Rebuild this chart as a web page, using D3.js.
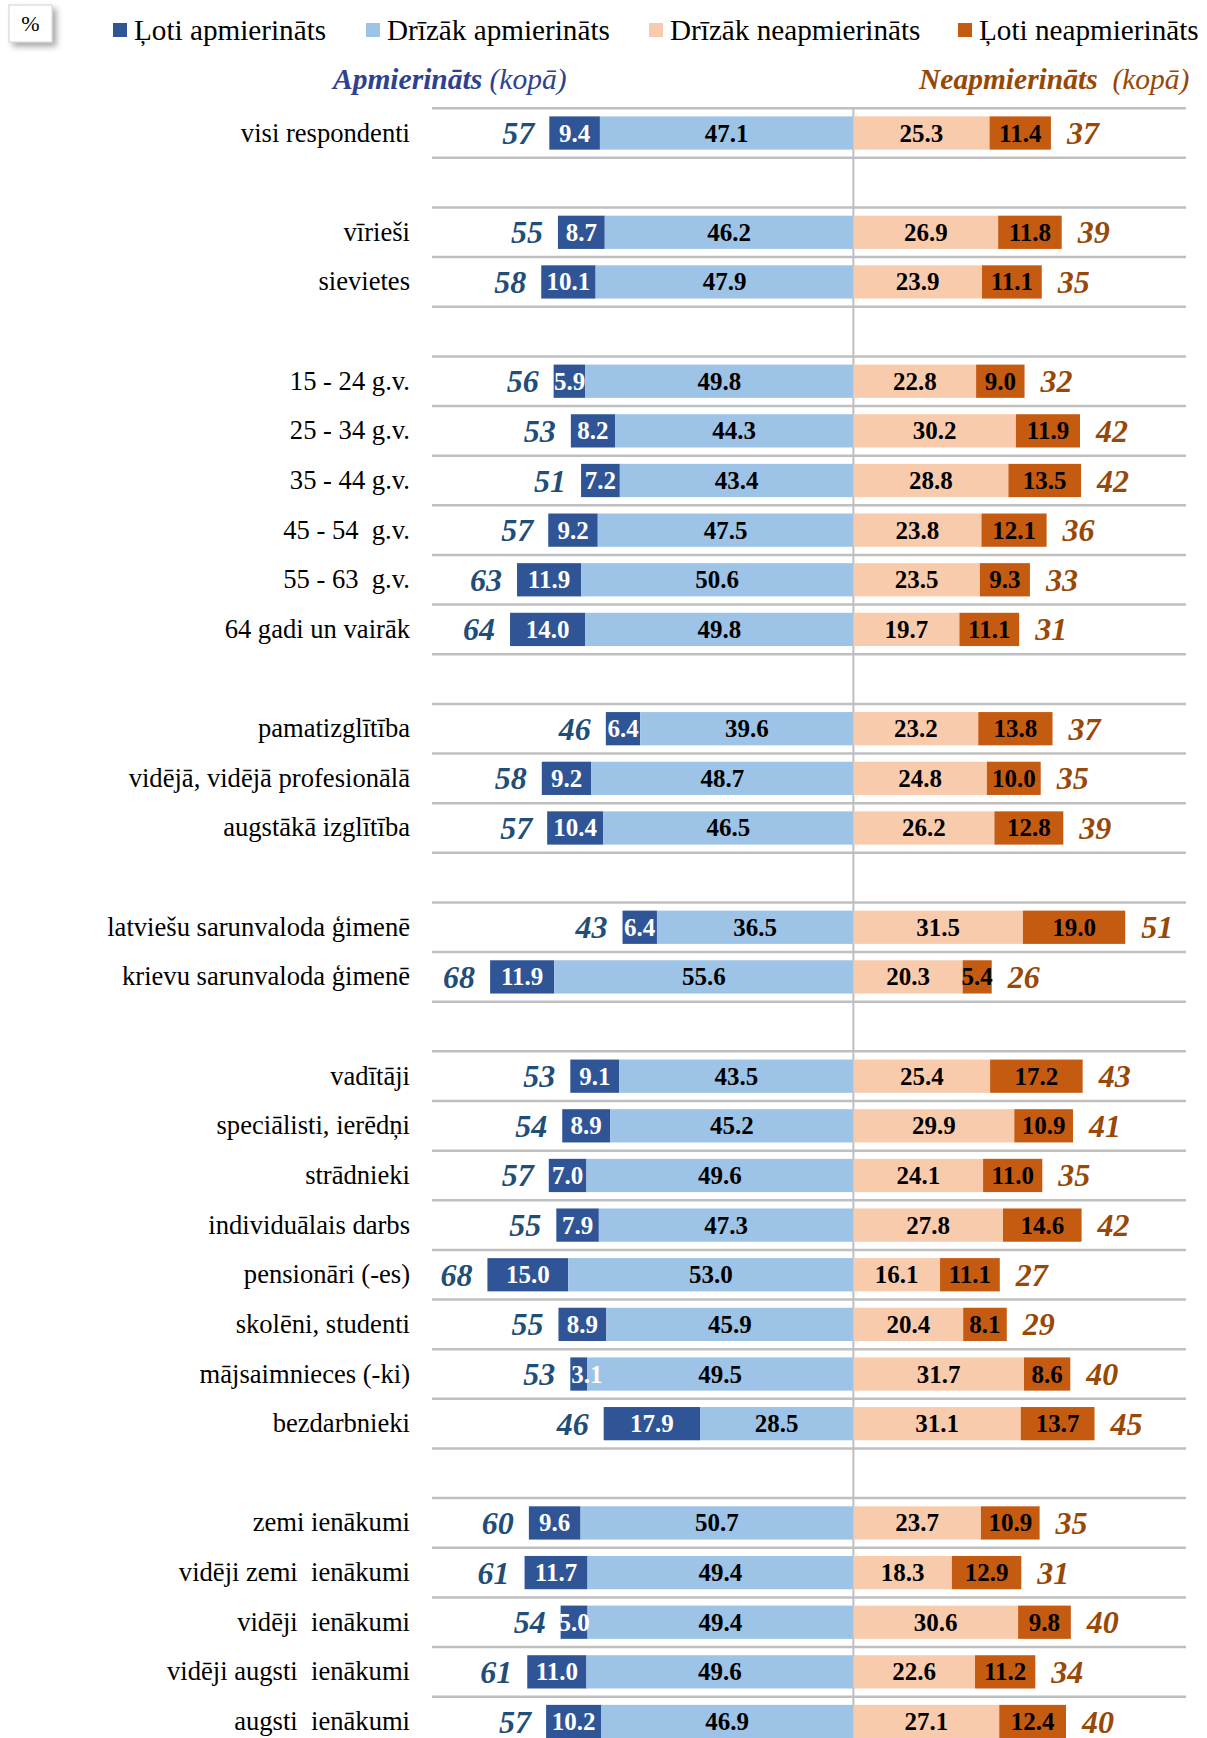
<!DOCTYPE html>
<html>
<head>
<meta charset="utf-8">
<script src="https://cdn.jsdelivr.net/npm/d3@7"></script>
<style>
  body { margin: 0; background: #fff; }
  svg { display: block; font-family: "Liberation Serif", "Times New Roman", serif; }
  text { white-space: pre; }
</style>
</head>
<body>
<script>
// rows, grouped; groups are separated by one empty slot
const groupSizes = [1, 2, 6, 3, 2, 8, 5];

const categories = [
    "visi respondenti",
    "vīrieši", "sievietes",
    "15 - 24 g.v.", "25 - 34 g.v.", "35 - 44 g.v.", "45 - 54  g.v.", "55 - 63  g.v.", "64 gadi un vairāk",
    "pamatizglītība", "vidējā, vidējā profesionālā", "augstākā izglītība",
    "latviešu sarunvaloda ģimenē", "krievu sarunvaloda ģimenē",
    "vadītāji", "speciālisti, ierēdņi", "strādnieki", "individuālais darbs",
    "pensionāri (-es)", "skolēni, studenti", "mājsaimnieces (-ki)", "bezdarbnieki",
    "zemi ienākumi", "vidēji zemi  ienākumi", "vidēji  ienākumi", "vidēji augsti  ienākumi", "augsti  ienākumi"
];

const veryS   = [9.4, 8.7, 10.1, 5.9, 8.2, 7.2, 9.2, 11.9, 14.0, 6.4, 9.2, 10.4, 6.4, 11.9, 9.1, 8.9, 7.0, 7.9, 15.0, 8.9, 3.1, 17.9, 9.6, 11.7, 5.0, 11.0, 10.2];
const ratherS = [47.1, 46.2, 47.9, 49.8, 44.3, 43.4, 47.5, 50.6, 49.8, 39.6, 48.7, 46.5, 36.5, 55.6, 43.5, 45.2, 49.6, 47.3, 53.0, 45.9, 49.5, 28.5, 50.7, 49.4, 49.4, 49.6, 46.9];
const ratherD = [25.3, 26.9, 23.9, 22.8, 30.2, 28.8, 23.8, 23.5, 19.7, 23.2, 24.8, 26.2, 31.5, 20.3, 25.4, 29.9, 24.1, 27.8, 16.1, 20.4, 31.7, 31.1, 23.7, 18.3, 30.6, 22.6, 27.1];
const veryD   = [11.4, 11.8, 11.1, 9.0, 11.9, 13.5, 12.1, 9.3, 11.1, 13.8, 10.0, 12.8, 19.0, 5.4, 17.2, 10.9, 11.0, 14.6, 11.1, 8.1, 8.6, 13.7, 10.9, 12.9, 9.8, 11.2, 12.4];
const totalS  = [57, 55, 58, 56, 53, 51, 57, 63, 64, 46, 58, 57, 43, 68, 53, 54, 57, 55, 68, 55, 53, 46, 60, 61, 54, 61, 57];
const totalD  = [37, 39, 35, 32, 42, 42, 36, 33, 31, 37, 35, 39, 51, 26, 43, 41, 35, 42, 27, 29, 40, 45, 35, 31, 40, 34, 40];

const legendNames = ["Ļoti apmierināts", "Drīzāk apmierināts", "Drīzāk neapmierināts", "Ļoti neapmierināts"];
const colors = ["#2F5597", "#9DC3E6", "#F8CBAD", "#C55A11"];
const labelColors = ["#fff", "#000", "#000", "#000"];

const width = 1207, height = 1738;

// slot index per row
const slots = [];
let s = 0;
groupSizes.forEach(n => {
    for (let i = 0; i < n; i++) slots.push(s++);
    s++;
});
const nSlots = s - 1;

const rows = categories.map((c, i) => ({
    name: c, slot: slots[i],
    segs: [
        { k: 0, x0: -(veryS[i] + ratherS[i]), x1: -ratherS[i], v: veryS[i] },
        { k: 1, x0: -ratherS[i], x1: 0, v: ratherS[i] },
        { k: 2, x0: 0, x1: ratherD[i], v: ratherD[i] },
        { k: 3, x0: ratherD[i], x1: ratherD[i] + veryD[i], v: veryD[i] }
    ],
    totS: totalS[i], totD: totalD[i]
}));

const x = d3.scaleLinear().domain([-78.3, 61.8]).range([432, 1186]);
const y = d3.scaleBand()
    .domain(d3.range(nSlots))
    .range([108.2, 108.2 + nSlots * 49.64])
    .paddingInner(0.33).paddingOuter(0.165);
const gap = (y.step() - y.bandwidth()) / 2;
const mid = y.bandwidth() / 2;

const svg = d3.select("body").append("svg")
    .attr("width", width)
    .attr("height", height);

const defs = svg.append("defs");
const f = defs.append("filter").attr("id", "sh").attr("x", "-30%").attr("y", "-30%").attr("width", "170%").attr("height", "170%");
f.append("feDropShadow").attr("dx", 4).attr("dy", 4).attr("stdDeviation", 3).attr("flood-color", "#000").attr("flood-opacity", 0.35);

// % box
svg.append("rect")
    .attr("x", 9).attr("y", 5).attr("width", 43).attr("height", 37)
    .attr("fill", "#fff").attr("stroke", "#d0d0d0").attr("filter", "url(#sh)");
svg.append("text")
    .attr("x", 30.5).attr("y", 31).attr("text-anchor", "middle")
    .attr("font-size", 22).text("%");

// legend
const legX = [113, 366, 649, 958];
const leg = svg.append("g").selectAll("g")
    .data(legendNames).enter().append("g")
    .attr("transform", (d, i) => `translate(${legX[i]},30)`);
leg.append("rect").attr("x", 0).attr("y", -7).attr("width", 14).attr("height", 14)
    .attr("fill", (d, i) => colors[i]);
leg.append("text").attr("x", 21).attr("y", 10).attr("font-size", 29.2).text(d => d);

// headers
const hl = svg.append("text").attr("x", 333).attr("y", 89).attr("font-size", 29.5).attr("font-style", "italic").attr("fill", "#2E4190");
hl.append("tspan").attr("font-weight", "bold").text("Apmierināts");
hl.append("tspan").text(" (kopā)");
const hr = svg.append("text").attr("x", 919).attr("y", 89).attr("font-size", 29.5).attr("font-style", "italic").attr("fill", "#974806");
hr.append("tspan").attr("font-weight", "bold").text("Neapmierināts");
hr.append("tspan").text("  (kopā)");

// gridlines: top and bottom of every row
const lineYs = new Set();
rows.forEach(r => {
    lineYs.add(+(y(r.slot) - gap).toFixed(2));
    lineYs.add(+(y(r.slot) + y.bandwidth() + gap).toFixed(2));
});
svg.append("g").selectAll("line")
    .data([...lineYs]).enter().append("line")
    .attr("x1", x.range()[0]).attr("x2", x.range()[1])
    .attr("y1", d => d).attr("y2", d => d)
    .attr("stroke", "#BFBFBF").attr("stroke-width", 2.5);

// center line
svg.append("line")
    .attr("x1", x(0)).attr("x2", x(0))
    .attr("y1", y(0) - gap).attr("y2", height)
    .attr("stroke", "#BFBFBF").attr("stroke-width", 2);

const row = svg.append("g").selectAll("g")
    .data(rows).enter().append("g")
    .attr("transform", d => `translate(0,${y(d.slot)})`);

row.selectAll("rect")
    .data(d => d.segs).enter().append("rect")
    .attr("x", d => x(d.x0))
    .attr("width", d => x(d.x1) - x(d.x0))
    .attr("height", y.bandwidth())
    .attr("fill", d => colors[d.k]);

row.selectAll("text.val")
    .data(d => d.segs).enter().append("text")
    .attr("class", "val")
    .attr("x", d => (x(d.x0) + x(d.x1)) / 2)
    .attr("y", mid + 8.5)
    .attr("text-anchor", "middle")
    .attr("font-size", 25).attr("font-weight", "bold")
    .attr("fill", d => labelColors[d.k])
    .text(d => d.v.toFixed(1))
    .each(function (d) {
        // very narrow segment: start the label at the segment's left edge
        const w = this.getComputedTextLength();
        const left = x(d.x0);
        if ((x(d.x1) - left) < w - 12) {
            d3.select(this).attr("text-anchor", "start").attr("x", left + 1);
        }
    });

row.append("text")
    .attr("x", 410).attr("y", mid + 8.5)
    .attr("text-anchor", "end").attr("font-size", 26.6)
    .text(d => d.name);

row.append("text")
    .attr("x", d => x(d.segs[0].x0) - 15).attr("y", mid + 11)
    .attr("text-anchor", "end").attr("font-size", 32)
    .attr("font-style", "italic").attr("font-weight", "bold")
    .attr("fill", "#1F4E79")
    .text(d => d.totS);

row.append("text")
    .attr("x", d => x(d.segs[3].x1) + 16).attr("y", mid + 11)
    .attr("font-size", 32).attr("font-style", "italic").attr("font-weight", "bold")
    .attr("fill", "#984807")
    .text(d => d.totD);
</script>
</body>
</html>
